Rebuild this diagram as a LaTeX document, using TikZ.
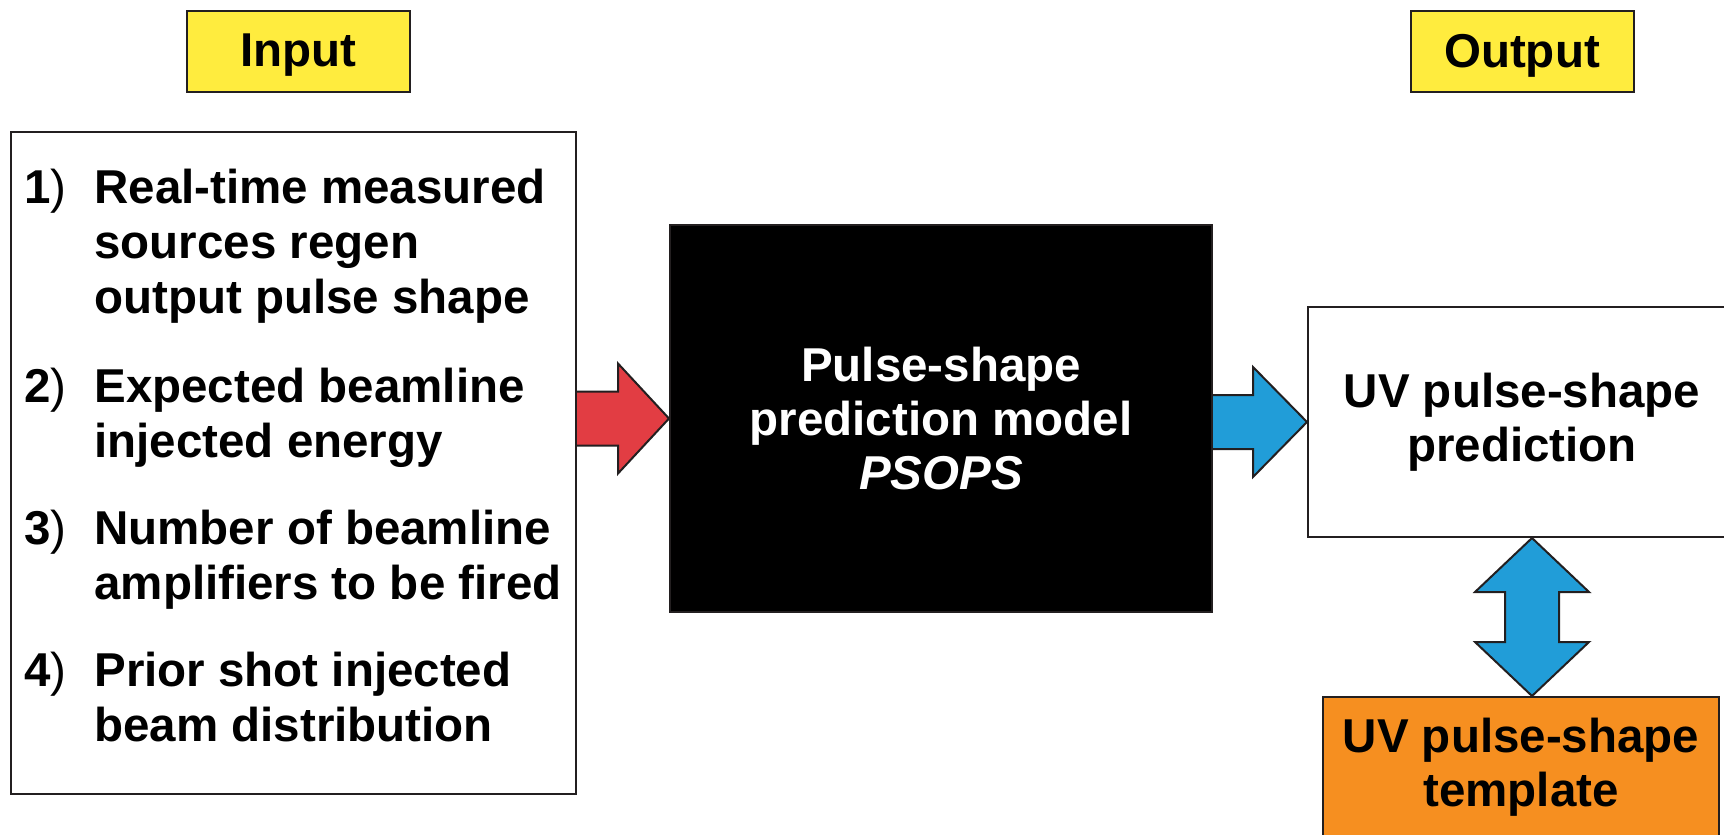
\documentclass[tikz,border=0pt]{standalone}
\usepackage{fontspec}
\setmainfont{Liberation Sans}
\usetikzlibrary{calc, positioning}

\definecolor{tagyellow}{RGB}{255,236,62}
\definecolor{arrowred}{RGB}{226,61,67}
\definecolor{arrowblue}{RGB}{33,157,216}
\definecolor{tmplorange}{RGB}{246,143,32}
\definecolor{edgegray}{RGB}{35,31,32}

\newcommand{\diagfont}{\fontsize{23.75pt}{27pt}\selectfont\bfseries}

\begin{document}
\begin{tikzpicture}[x=0.5pt, y=-0.5pt,
    tag/.style={draw=edgegray, line width=1pt, fill=tagyellow, minimum width=111.5pt, minimum height=40.5pt, text depth=1pt, font=\diagfont},
    box/.style={draw=edgegray, line width=1pt, align=center, font=\diagfont, inner sep=0pt},
    blockarrow/.style={draw=edgegray, line width=1pt, line join=miter}]
    \useasboundingbox (0,0) rectangle (1724,835);
    \clip (0,0) rectangle (1724,835);
    % Labels on top
    \node[tag] (intag) at (298.5,51.5) {Input};
    \node[tag] (outtag) at (1522,51.5) {Output};
    % Input list
    \node[box, minimum width=282.5pt, minimum height=331pt] (inbox) at (293.5,463) {};
    \node[anchor=west, inner sep=0pt, font=\fontsize{23.75pt}{27.5pt}\selectfont\bfseries] (items) at ($(inbox.west)+(14,-2)$) {%
      \begin{tabular}{@{}p{35pt}@{}l@{}}
        1\textmd{)} & Real-time measured\\
        & sources regen\\
        & output pulse shape\\[17pt]
        2\textmd{)} & Expected beamline\\
        & injected energy\\[16pt]
        3\textmd{)} & Number of beamline\\
        & amplifiers to be fired\\[16pt]
        4\textmd{)} & Prior shot injected\\
        & beam distribution
      \end{tabular}};
    % Model and outputs
    \node[box, fill=black, text=white, minimum width=271pt, minimum height=193.5pt] (model) at (941,418.5) {Pulse-shape\\prediction model\\\textit{PSOPS}};
    \node[box, fill=white, minimum width=214pt, minimum height=115pt] (pred) at (1522,422) {UV pulse-shape\\prediction};
    \node[box, fill=tmplorange, minimum width=198pt, minimum height=70pt] (tmpl) at (1521,767) {UV pulse-shape\\template};
    % Block arrows
    \draw[blockarrow, fill=arrowred] ($(inbox.east |- model.west)+(0,-27)$) -- ($(model.west)+(-51,-27)$) -- ($(model.west)+(-51,-55)$) -- (model.west) -- ($(model.west)+(-51,55)$) -- ($(model.west)+(-51,27)$) -- ($(inbox.east |- model.west)+(0,27)$);
    \draw[blockarrow, fill=arrowblue] ($(model.east |- pred.west)+(0,-27)$) -- ($(pred.west)+(-54,-27)$) -- ($(pred.west)+(-54,-55)$) -- (pred.west) -- ($(pred.west)+(-54,55)$) -- ($(pred.west)+(-54,27)$) -- ($(model.east |- pred.west)+(0,27)$);
    \coordinate (vt) at ($(pred.south)+(10,0)$);
    \coordinate (vb) at (vt |- tmpl.north);
    \draw[blockarrow, fill=arrowblue] (vt) -- ($(vt)+(57,54)$) -- ($(vt)+(27,54)$) -- ($(vb)+(27,-54)$) -- ($(vb)+(57,-54)$) -- (vb) -- ($(vb)+(-57,-54)$) -- ($(vb)+(-27,-54)$) -- ($(vt)+(-27,54)$) -- ($(vt)+(-57,54)$) -- cycle;
\end{tikzpicture}
\end{document}
